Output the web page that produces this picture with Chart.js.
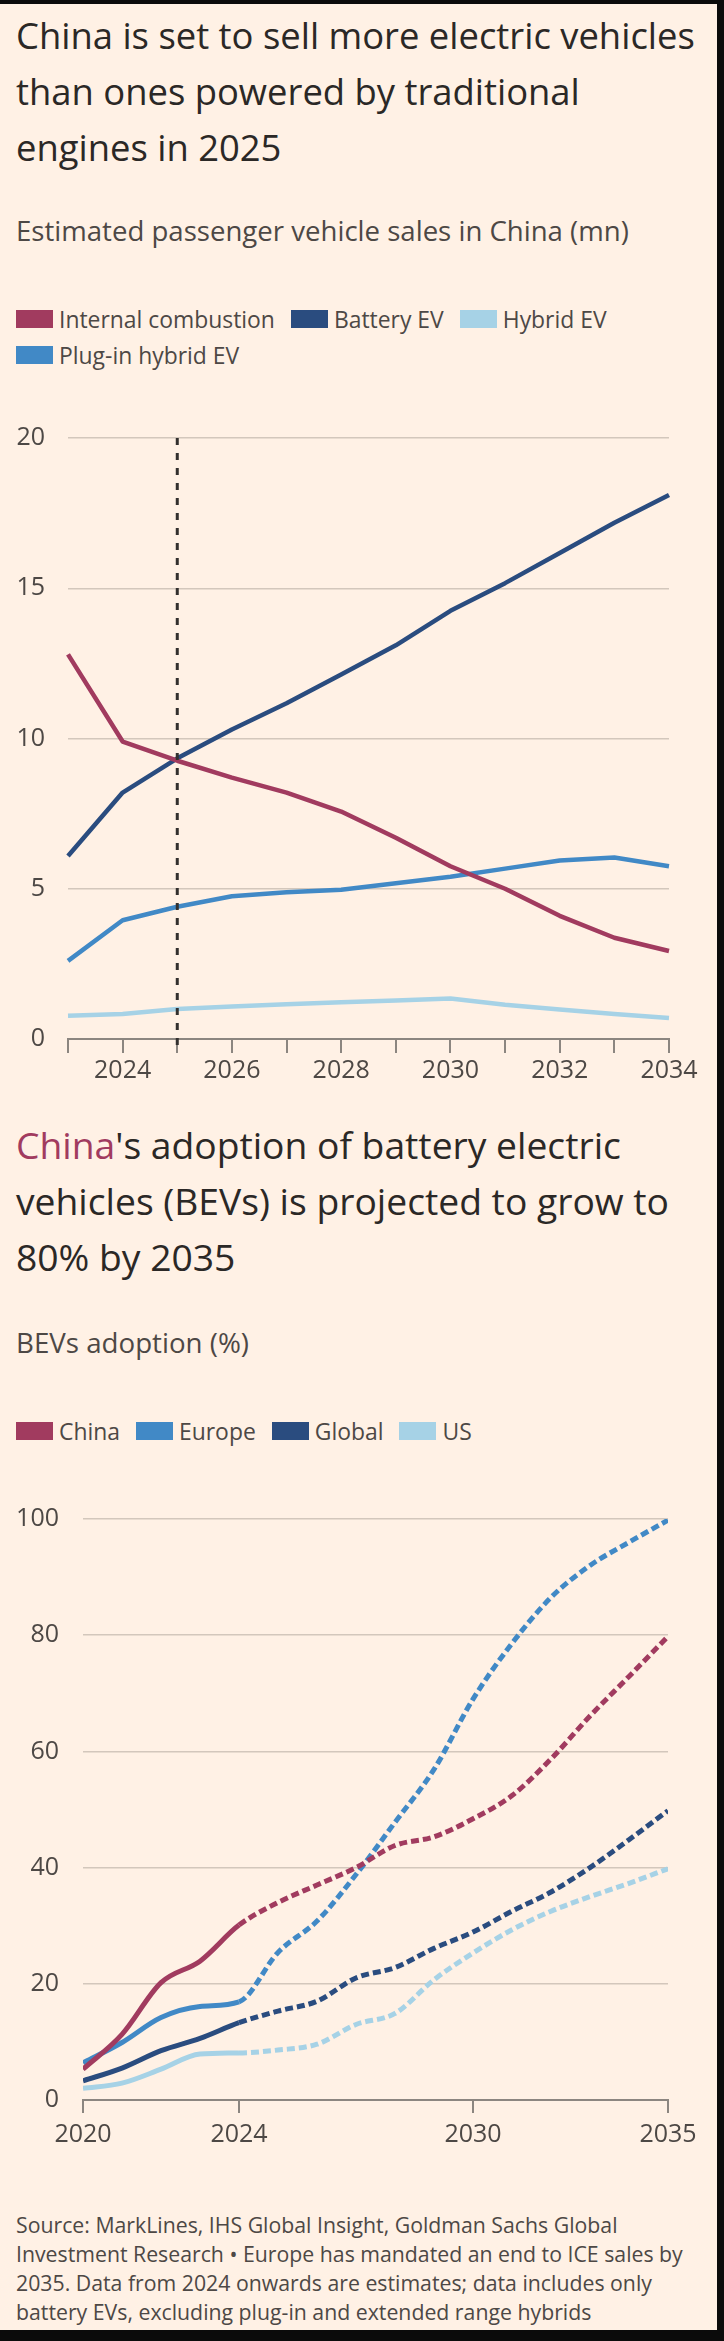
<!DOCTYPE html>
<html>
<head>
<meta charset="utf-8">
<script src="https://cdn.jsdelivr.net/npm/chart.js@4.4.1/dist/chart.umd.min.js"></script>
<style>
  html, body { margin:0; padding:0; }
  body { width:724px; height:2341px; background:#fff1e5; position:relative; overflow:hidden; font-family:'Open Sans', sans-serif; color:#33302e; }
  .abs { position:absolute; left:16px; white-space:nowrap; }
  .title { font-size:34px; line-height:56px; color:#2b2826; }
  .sub { font-size:25px; line-height:30px; color:#4d4845; }
  .legend { display:flex; flex-wrap:wrap; width:670px; font-size:23px; color:#4d4845; }
  .item { display:flex; align-items:center; height:36px; margin-right:16px; }
  .box { width:37px; height:18px; margin-right:6px; }
  .foot { font-size:20px; line-height:29px; color:#4d4845; }
  .chartbox { position:absolute; left:0; width:724px; }
  .bar { position:absolute; background:#0b0b0b; }
</style>
</head>
<body>

<div id="t1" class="abs title" style="top:7px">China is set to sell more electric vehicles<br>than ones powered by traditional<br>engines in 2025</div>
<div id="s1" class="abs sub" style="top:216px">Estimated passenger vehicle sales in China (mn)</div>
<div id="legend1" class="abs legend" style="top:301px"></div>
<div class="chartbox" style="top:400px;height:700px"><canvas id="c1"></canvas></div>

<div id="t2" class="abs title" style="top:1117px"><span style="color:#a13b5f">China</span>'s adoption of battery electric<br>vehicles (BEVs) is projected to grow to<br>80% by 2035</div>
<div id="s2" class="abs sub" style="top:1327px">BEVs adoption (%)</div>
<div id="legend2" class="abs legend" style="top:1413px"></div>
<div class="chartbox" style="top:1480px;height:690px"><canvas id="c2"></canvas></div>

<div id="foot" class="abs foot" style="top:2210px">Source: MarkLines, IHS Global Insight, Goldman Sachs Global<br>Investment Research • Europe has mandated an end to ICE sales by<br>2035. Data from 2024 onwards are estimates; data includes only<br>battery EVs, excluding plug-in and extended range hybrids</div>

<div class="bar" style="left:0;top:0;width:724px;height:4px"></div>
<div class="bar" style="left:717px;top:0;width:7px;height:2341px"></div>
<div class="bar" style="left:0;top:2330px;width:724px;height:11px"></div>

<script>
// ---------- Chart 1 data: Estimated passenger vehicle sales in China (mn) ----------
const years1 = [2023, 2024, 2025, 2026, 2027, 2028, 2029, 2030, 2031, 2032, 2033, 2034];
const internalCombustion = [12.8, 9.9, 9.26, 8.7, 8.2, 7.57, 6.7, 5.75, 5.0, 4.1, 3.37, 2.93];
const batteryEV = [6.09, 8.2, 9.34, 10.3, 11.17, 12.13, 13.1, 14.25, 15.17, 16.17, 17.18, 18.1];
const hybridEV = [0.77, 0.83, 1.0, 1.08, 1.16, 1.22, 1.28, 1.35, 1.14, 0.98, 0.83, 0.7];
const plugInHybridEV = [2.6, 3.95, 4.4, 4.75, 4.88, 4.97, 5.18, 5.4, 5.67, 5.94, 6.04, 5.75];
const seriesNames1 = ['Internal combustion', 'Battery EV', 'Hybrid EV', 'Plug-in hybrid EV'];
const yTicks1 = [0, 5, 10, 15, 20];
const markerYear = 2025;

// ---------- Chart 2 data: BEVs adoption (%) ----------
const years2 = [2020, 2021, 2022, 2023, 2024, 2025, 2026, 2027, 2028, 2029, 2030, 2031, 2032, 2033, 2034, 2035];
const chinaAdoption = [5.3, 11.3, 20.2, 23.9, 30.1, 34.0, 37.0, 40.0, 43.8, 45.3, 48.4, 52.4, 58.7, 66.1, 72.9, 79.8];
const europeAdoption = [6.4, 9.9, 14.2, 16.1, 16.9, 25.4, 30.8, 38.8, 47.8, 56.9, 69.0, 78.6, 86.5, 92.0, 96.0, 99.8];
const globalAdoption = [3.3, 5.5, 8.5, 10.6, 13.3, 15.3, 17.0, 21.0, 22.8, 26.1, 28.9, 32.5, 35.8, 40.0, 44.8, 49.8];
const usAdoption = [2.0, 2.9, 5.3, 7.9, 8.1, 8.6, 9.6, 13.0, 14.9, 20.7, 25.3, 29.3, 32.5, 35.0, 37.3, 39.8];
const seriesNames2 = ['China', 'Europe', 'Global', 'US'];
const xTicks2 = [2020, 2024, 2030, 2035];
const yTicks2 = [0, 20, 40, 60, 80, 100];
const estimateFromYear = 2024;

// ---------- styles ----------
const CLARET = '#a13b5f', DARK = '#2a4c7f', MID = '#4189c6', LIGHT = '#a6d2e6';
const GRID = '#d3c7bc', AXIS = '#8c8680', TICKTXT = '#4d4845';
const colors1 = [CLARET, DARK, LIGHT, MID];
const colors2 = [CLARET, MID, DARK, LIGHT];
const FONT = 'Open Sans';

function buildLegend(id, names, colors) {
  const el = document.getElementById(id);
  names.forEach((n, i) => {
    const it = document.createElement('div'); it.className = 'item';
    const b = document.createElement('div'); b.className = 'box'; b.style.background = colors[i];
    const t = document.createElement('span'); t.textContent = n;
    it.appendChild(b); it.appendChild(t); el.appendChild(it);
  });
}
buildLegend('legend1', seriesNames1, colors1);
buildLegend('legend2', seriesNames2, colors2);

// scale a text block's font so that one of its lines has the measured reference width
const measureCtx = document.createElement('canvas').getContext('2d');
function textWidth(text, size) {
  measureCtx.font = size + 'px "' + FONT + '"';
  return measureCtx.measureText(text).width;
}
function fitBlock(id, lineIdx, target) {
  const el = document.getElementById(id);
  const lines = el.innerText.split('\n');
  const size = parseFloat(getComputedStyle(el).fontSize);
  const w = textWidth(lines[lineIdx], size);
  el.style.fontSize = (size * target / w).toFixed(2) + 'px';
}
fitBlock('t1', 0, 679);
fitBlock('t2', 1, 653);
fitBlock('s1', 0, 613);
fitBlock('s2', 0, 233);
fitBlock('foot', 1, 667);
(function () {
  const size = 23;
  const s = size * 216 / textWidth(seriesNames1[0], size);
  document.getElementById('legend1').style.fontSize = s.toFixed(2) + 'px';
  document.getElementById('legend2').style.fontSize = s.toFixed(2) + 'px';
})();

Chart.defaults.font.family = FONT;
Chart.defaults.animation = false;

const tickFont = { family: FONT, size: 25 };

const markerPlugin = {
  id: 'marker',
  afterDatasetsDraw(chart) {
    const xs = chart.scales.x, a = chart.chartArea;
    const x = xs.getPixelForValue(years1.indexOf(markerYear));
    const ctx = chart.ctx;
    ctx.save();
    ctx.strokeStyle = '#33302e';
    ctx.lineWidth = 3;
    ctx.setLineDash([7, 8]);
    ctx.beginPath();
    ctx.moveTo(x, a.top);
    ctx.lineTo(x, a.bottom + 14);
    ctx.stroke();
    ctx.restore();
  }
};

const series1 = [internalCombustion, batteryEV, hybridEV, plugInHybridEV];
new Chart(document.getElementById('c1'), {
  type: 'line',
  data: {
    labels: years1,
    datasets: series1.map((d, i) => ({
      label: seriesNames1[i], data: d, borderColor: colors1[i], backgroundColor: colors1[i],
      borderWidth: 4.5, pointRadius: 0, tension: 0, borderJoinStyle: 'round', fill: false
    }))
  },
  options: {
    responsive: true, maintainAspectRatio: false,
    layout: { padding: { top: 38, right: 55, left: 0, bottom: 0 } },
    plugins: { legend: { display: false }, tooltip: { enabled: false } },
    scales: {
      x: {
        type: 'category',
        grid: { display: true, drawOnChartArea: false, drawTicks: true, tickLength: 14, color: AXIS, lineWidth: 2 },
        border: { display: true, color: AXIS, width: 2 },
        ticks: { autoSkip: false, maxRotation: 0, padding: 3, font: tickFont, color: TICKTXT,
          callback: (v, i) => (years1[i] % 2 === 0 ? String(years1[i]) : '') },
        afterFit: s => { s.height = 61; }
      },
      y: {
        min: 0, max: 20,
        afterBuildTicks: s => { s.ticks = yTicks1.map(v => ({ value: v })); },
        grid: { drawTicks: false, color: c => (c.tick && c.tick.value === 0 ? 'rgba(0,0,0,0)' : GRID), lineWidth: 1.5 },
        border: { display: false },
        ticks: { padding: 23, font: tickFont, color: TICKTXT, callback: v => String(v) },
        afterFit: s => { s.width = 68; }
      }
    }
  },
  plugins: [markerPlugin]
});

const series2 = [chinaAdoption, europeAdoption, globalAdoption, usAdoption];
const estIdx = years2.indexOf(estimateFromYear);
new Chart(document.getElementById('c2'), {
  type: 'line',
  data: {
    datasets: series2.map((d, i) => ({
      label: seriesNames2[i],
      data: years2.map((yr, k) => ({ x: yr, y: d[k] })),
      borderColor: colors2[i], backgroundColor: colors2[i],
      borderWidth: 5, pointRadius: 0, cubicInterpolationMode: 'monotone', fill: false,
      segment: { borderDash: ctx => (ctx.p0DataIndex >= estIdx ? [8, 4] : undefined) }
    }))
  },
  options: {
    responsive: true, maintainAspectRatio: false,
    layout: { padding: { top: 35, right: 56, left: 0, bottom: 0 } },
    plugins: { legend: { display: false }, tooltip: { enabled: false } },
    scales: {
      x: {
        type: 'linear', min: years2[0], max: years2[years2.length - 1],
        afterBuildTicks: s => { s.ticks = xTicks2.map(v => ({ value: v })); },
        grid: { display: true, drawOnChartArea: false, drawTicks: true, tickLength: 13, color: AXIS, lineWidth: 2 },
        border: { display: true, color: AXIS, width: 2 },
        ticks: { autoSkip: false, maxRotation: 0, padding: 7, font: tickFont, color: TICKTXT, callback: v => String(v) },
        afterFit: s => { s.height = 70; }
      },
      y: {
        min: 0, max: 100,
        afterBuildTicks: s => { s.ticks = yTicks2.map(v => ({ value: v })); },
        grid: { drawTicks: false, color: c => (c.tick && c.tick.value === 0 ? 'rgba(0,0,0,0)' : GRID), lineWidth: 1.5 },
        border: { display: false },
        ticks: { padding: 24, font: tickFont, color: TICKTXT, callback: v => String(v) },
        afterFit: s => { s.width = 83; }
      }
    }
  }
});
</script>
</body>
</html>
